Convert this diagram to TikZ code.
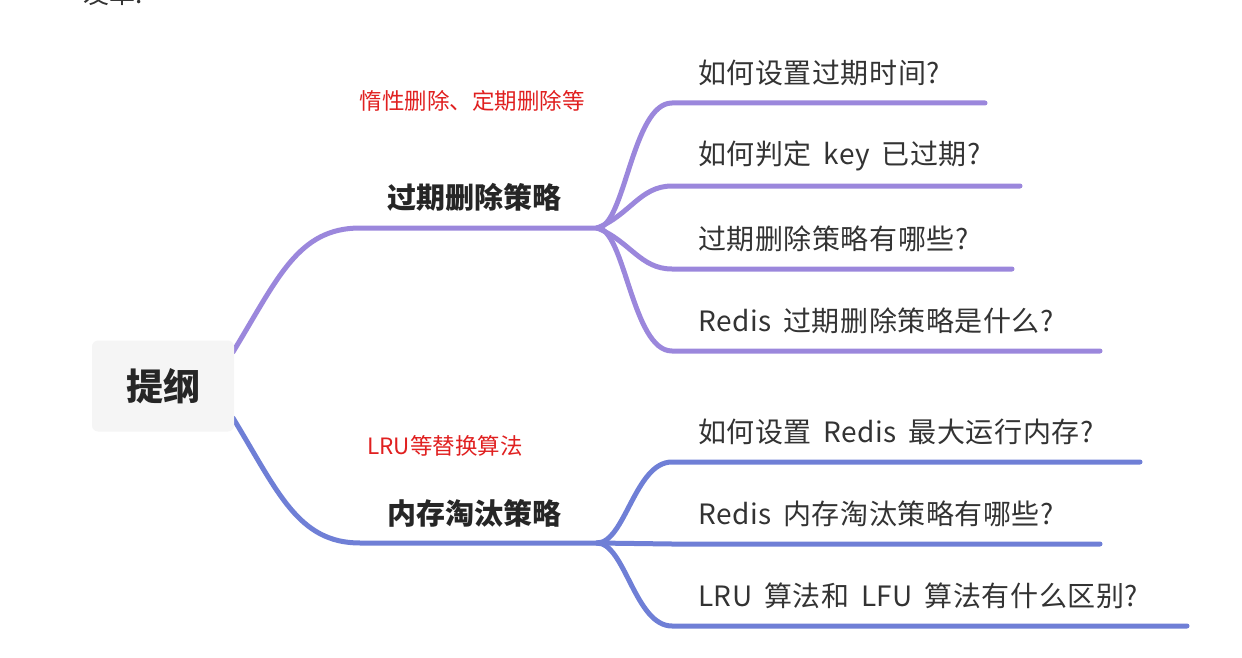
\documentclass[tikz,border=0pt]{standalone}
\usepackage{fontspec}
\setmainfont{Noto Sans CJK SC}
\newfontfamily\childfont{Noto Sans CJK SC}[LetterSpace=2]
\newcommand\wsp{\hspace{0.42em}}
\definecolor{upc}{HTML}{9B87DC}
\definecolor{loc}{HTML}{6F7FD6}
\definecolor{rootbg}{HTML}{F5F5F5}
\definecolor{txt}{HTML}{333333}
\definecolor{note}{HTML}{E02020}
\tikzset{
  edgeup/.style={draw=upc, line width=5pt, line cap=round},
  edgelo/.style={draw=loc, line width=5pt, line cap=round},
  rootbox/.style={fill=rootbg, rounded corners=6pt, minimum width=142pt, minimum height=91pt, inner sep=0pt, font=\fontsize{37}{40}\selectfont\bfseries, text=black!85},
  mainlbl/.style={inner sep=0pt, font=\fontsize{29}{33}\selectfont\bfseries, text=black!85},
  notelbl/.style={inner sep=0pt, font=\fontsize{22.5}{26}\selectfont, text=note},
  childlbl/.style={inner sep=0pt, anchor=west, font=\childfont\fontsize{28}{32}\selectfont, text=txt},
}
\begin{document}
\begin{tikzpicture}[x=1pt,y=-1pt]
\useasboundingbox (0,0) rectangle (1242,658);
\clip (0,0) rectangle (1242,658);
\node[inner sep=0pt, anchor=west, font=\fontsize{26}{30}\selectfont, text=txt] (cut) at (83,-6) {发革:};
% junctions and starts
\coordinate (s1) at (233,352);
\coordinate (s2) at (233,418);
\coordinate (j1) at (597,228);
\coordinate (j2) at (597,543);
\coordinate (h1) at (360,228);
\coordinate (h2) at (360,543);
% upper ends
\coordinate (a1) at (672,103); \coordinate (b1) at (985,103);
\coordinate (a2) at (672,186); \coordinate (b2) at (1020,186);
\coordinate (a3) at (672,269); \coordinate (b3) at (1012,269);
\coordinate (a4) at (672,351); \coordinate (b4) at (1100,351);
% lower ends
\coordinate (a5) at (672,462); \coordinate (b5) at (1140,462);
\coordinate (a6) at (672,544); \coordinate (b6) at (1100,544);
\coordinate (a7) at (672,626); \coordinate (b7) at (1187,626);
% main branches
\draw[edgeup] (s1) .. controls (278,278) and (298,228) .. (h1) -- (j1);
\draw[edgelo] (s2) .. controls (278,492) and (298,543) .. (h2) -- (j2);
% children upper
\draw[edgeup] (j1) .. controls (625,228) and (632,103) .. (a1) -- (b1);
\draw[edgeup] (j1) .. controls (630,215) and (640,186) .. (a2) -- (b2);
\draw[edgeup] (j1) .. controls (630,241) and (640,269) .. (a3) -- (b3);
\draw[edgeup] (j1) .. controls (625,228) and (632,351) .. (a4) -- (b4);
% children lower
\draw[edgelo] (j2) .. controls (625,543) and (635,462) .. (a5) -- (b5);
\draw[edgelo] (j2) -- (a6) -- (b6);
\draw[edgelo] (j2) .. controls (625,543) and (635,626) .. (a7) -- (b7);
% root
\node[rootbox] (root) at (163,386) {提纲};
% main labels
\node[mainlbl] (m1) at (474,197) {过期删除策略};
\node[mainlbl] (m2) at (474,513) {内存淘汰策略};
\node[notelbl] (n1) at (472,101) {惰性删除、定期删除等};
\node[notelbl] (n2) at (445,446) {LRU等替换算法};
% child labels
\node[childlbl] (c1) at (698,73) {如何设置过期时间?};
\node[childlbl] (c2) at (698,156) {如何判定\wsp key\wsp 已过期?};
\node[childlbl] (c3) at (698,239) {过期删除策略有哪些?};
\node[childlbl] (c4) at (698,321) {Redis\wsp 过期删除策略是什么?};
\node[childlbl] (c5) at (698,432) {如何设置\wsp Redis\wsp 最大运行内存?};
\node[childlbl] (c6) at (698,514) {Redis\wsp 内存淘汰策略有哪些?};
\node[childlbl] (c7) at (698,596) {LRU\wsp 算法和\wsp LFU\wsp 算法有什么区别?};
\end{tikzpicture}
\end{document}
